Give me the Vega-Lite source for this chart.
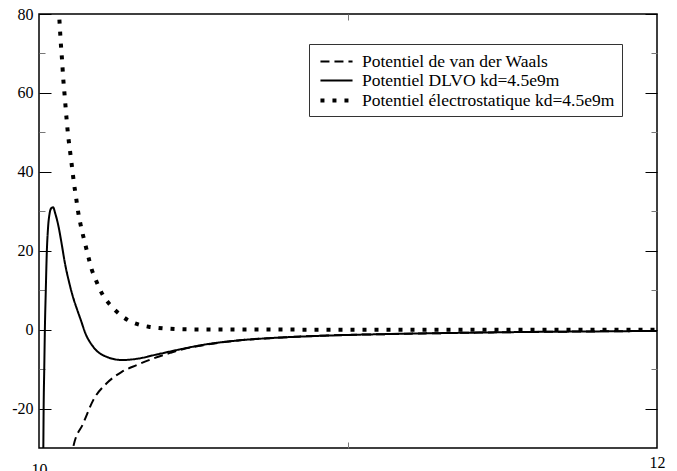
{
  "$schema": "https://vega.github.io/schema/vega-lite/v6.json",
  "width": 618,
  "height": 434,
  "autosize": {"type": "none"},
  "padding": {"left": 39, "top": 14, "right": 20, "bottom": 23},
  "config": {
    "view": {"stroke": "black", "strokeWidth": 1.5},
    "font": "Liberation Serif",
    "axis": {"domain": false, "grid": false, "title": null, "labelFont": "Liberation Serif", "labelFontSize": 16, "labelColor": "black", "tickColor": "black", "tickWidth": 1, "labelFlush": false}
  },
  "datasets": {
    "curves": [
      {"x": 10.045, "y": 112, "s": "Potentiel électrostatique kd=4.5e9m"},
      {"x": 10.055, "y": 95, "s": "Potentiel électrostatique kd=4.5e9m"},
      {"x": 10.065, "y": 80, "s": "Potentiel électrostatique kd=4.5e9m"},
      {"x": 10.068, "y": 75.9, "s": "Potentiel électrostatique kd=4.5e9m"},
      {"x": 10.071, "y": 72.1, "s": "Potentiel électrostatique kd=4.5e9m"},
      {"x": 10.075, "y": 67.9, "s": "Potentiel électrostatique kd=4.5e9m"},
      {"x": 10.078, "y": 64.1, "s": "Potentiel électrostatique kd=4.5e9m"},
      {"x": 10.082, "y": 60.3, "s": "Potentiel électrostatique kd=4.5e9m"},
      {"x": 10.086, "y": 56.5, "s": "Potentiel électrostatique kd=4.5e9m"},
      {"x": 10.090, "y": 52.7, "s": "Potentiel électrostatique kd=4.5e9m"},
      {"x": 10.095, "y": 48.7, "s": "Potentiel électrostatique kd=4.5e9m"},
      {"x": 10.101, "y": 44.9, "s": "Potentiel électrostatique kd=4.5e9m"},
      {"x": 10.107, "y": 41.1, "s": "Potentiel électrostatique kd=4.5e9m"},
      {"x": 10.113, "y": 37.2, "s": "Potentiel électrostatique kd=4.5e9m"},
      {"x": 10.120, "y": 33.5, "s": "Potentiel électrostatique kd=4.5e9m"},
      {"x": 10.127, "y": 29.7, "s": "Potentiel électrostatique kd=4.5e9m"},
      {"x": 10.136, "y": 26.1, "s": "Potentiel électrostatique kd=4.5e9m"},
      {"x": 10.147, "y": 22.5, "s": "Potentiel électrostatique kd=4.5e9m"},
      {"x": 10.158, "y": 19.0, "s": "Potentiel électrostatique kd=4.5e9m"},
      {"x": 10.170, "y": 15.4, "s": "Potentiel électrostatique kd=4.5e9m"},
      {"x": 10.185, "y": 12.4, "s": "Potentiel électrostatique kd=4.5e9m"},
      {"x": 10.205, "y": 9.0, "s": "Potentiel électrostatique kd=4.5e9m"},
      {"x": 10.231, "y": 6.2, "s": "Potentiel électrostatique kd=4.5e9m"},
      {"x": 10.261, "y": 3.9, "s": "Potentiel électrostatique kd=4.5e9m"},
      {"x": 10.290, "y": 2.3, "s": "Potentiel électrostatique kd=4.5e9m"},
      {"x": 10.324, "y": 1.25, "s": "Potentiel électrostatique kd=4.5e9m"},
      {"x": 10.355, "y": 0.74, "s": "Potentiel électrostatique kd=4.5e9m"},
      {"x": 10.386, "y": 0.45, "s": "Potentiel électrostatique kd=4.5e9m"},
      {"x": 10.417, "y": 0.25, "s": "Potentiel électrostatique kd=4.5e9m"},
      {"x": 10.449, "y": 0.12, "s": "Potentiel électrostatique kd=4.5e9m"},
      {"x": 10.5, "y": 0.05, "s": "Potentiel électrostatique kd=4.5e9m"},
      {"x": 10.6, "y": 0.02, "s": "Potentiel électrostatique kd=4.5e9m"},
      {"x": 10.8, "y": 0.005, "s": "Potentiel électrostatique kd=4.5e9m"},
      {"x": 11.0, "y": 0, "s": "Potentiel électrostatique kd=4.5e9m"},
      {"x": 11.5, "y": 0, "s": "Potentiel électrostatique kd=4.5e9m"},
      {"x": 12.0, "y": 0, "s": "Potentiel électrostatique kd=4.5e9m"},
      {"x": 10.012, "y": -40, "s": "Potentiel DLVO kd=4.5e9m"},
      {"x": 10.014, "y": -30, "s": "Potentiel DLVO kd=4.5e9m"},
      {"x": 10.015, "y": -20, "s": "Potentiel DLVO kd=4.5e9m"},
      {"x": 10.017, "y": -10, "s": "Potentiel DLVO kd=4.5e9m"},
      {"x": 10.019, "y": 0, "s": "Potentiel DLVO kd=4.5e9m"},
      {"x": 10.022, "y": 10, "s": "Potentiel DLVO kd=4.5e9m"},
      {"x": 10.025, "y": 19, "s": "Potentiel DLVO kd=4.5e9m"},
      {"x": 10.029, "y": 25.5, "s": "Potentiel DLVO kd=4.5e9m"},
      {"x": 10.034, "y": 29.3, "s": "Potentiel DLVO kd=4.5e9m"},
      {"x": 10.040, "y": 30.8, "s": "Potentiel DLVO kd=4.5e9m"},
      {"x": 10.046, "y": 31, "s": "Potentiel DLVO kd=4.5e9m"},
      {"x": 10.052, "y": 29.6, "s": "Potentiel DLVO kd=4.5e9m"},
      {"x": 10.0625, "y": 26.4, "s": "Potentiel DLVO kd=4.5e9m"},
      {"x": 10.073, "y": 21.9, "s": "Potentiel DLVO kd=4.5e9m"},
      {"x": 10.084, "y": 16.8, "s": "Potentiel DLVO kd=4.5e9m"},
      {"x": 10.100, "y": 11.2, "s": "Potentiel DLVO kd=4.5e9m"},
      {"x": 10.111, "y": 8.0, "s": "Potentiel DLVO kd=4.5e9m"},
      {"x": 10.122, "y": 5.4, "s": "Potentiel DLVO kd=4.5e9m"},
      {"x": 10.135, "y": 2.5, "s": "Potentiel DLVO kd=4.5e9m"},
      {"x": 10.150, "y": -0.9, "s": "Potentiel DLVO kd=4.5e9m"},
      {"x": 10.176, "y": -4.4, "s": "Potentiel DLVO kd=4.5e9m"},
      {"x": 10.219, "y": -6.9, "s": "Potentiel DLVO kd=4.5e9m"},
      {"x": 10.268, "y": -7.7, "s": "Potentiel DLVO kd=4.5e9m"},
      {"x": 10.316, "y": -7.4, "s": "Potentiel DLVO kd=4.5e9m"},
      {"x": 10.381, "y": -6.3, "s": "Potentiel DLVO kd=4.5e9m"},
      {"x": 10.456, "y": -5.0, "s": "Potentiel DLVO kd=4.5e9m"},
      {"x": 10.543, "y": -3.7, "s": "Potentiel DLVO kd=4.5e9m"},
      {"x": 10.650, "y": -2.7, "s": "Potentiel DLVO kd=4.5e9m"},
      {"x": 10.758, "y": -2.1, "s": "Potentiel DLVO kd=4.5e9m"},
      {"x": 10.866, "y": -1.7, "s": "Potentiel DLVO kd=4.5e9m"},
      {"x": 11.0, "y": -1.35, "s": "Potentiel DLVO kd=4.5e9m"},
      {"x": 11.18, "y": -1.05, "s": "Potentiel DLVO kd=4.5e9m"},
      {"x": 11.33, "y": -0.85, "s": "Potentiel DLVO kd=4.5e9m"},
      {"x": 11.55, "y": -0.62, "s": "Potentiel DLVO kd=4.5e9m"},
      {"x": 11.8, "y": -0.45, "s": "Potentiel DLVO kd=4.5e9m"},
      {"x": 12.0, "y": -0.32, "s": "Potentiel DLVO kd=4.5e9m"},
      {"x": 10.105, "y": -33, "s": "Potentiel de van der Waals"},
      {"x": 10.111, "y": -29.7, "s": "Potentiel de van der Waals"},
      {"x": 10.143, "y": -23.8, "s": "Potentiel de van der Waals"},
      {"x": 10.176, "y": -17.8, "s": "Potentiel de van der Waals"},
      {"x": 10.219, "y": -13.6, "s": "Potentiel de van der Waals"},
      {"x": 10.268, "y": -10.7, "s": "Potentiel de van der Waals"},
      {"x": 10.316, "y": -9.0, "s": "Potentiel de van der Waals"},
      {"x": 10.370, "y": -7.3, "s": "Potentiel de van der Waals"},
      {"x": 10.424, "y": -5.9, "s": "Potentiel de van der Waals"},
      {"x": 10.456, "y": -5.15, "s": "Potentiel de van der Waals"},
      {"x": 10.543, "y": -3.8, "s": "Potentiel de van der Waals"},
      {"x": 10.650, "y": -2.7, "s": "Potentiel de van der Waals"},
      {"x": 10.758, "y": -2.1, "s": "Potentiel de van der Waals"},
      {"x": 10.866, "y": -1.7, "s": "Potentiel de van der Waals"},
      {"x": 11.0, "y": -1.35, "s": "Potentiel de van der Waals"},
      {"x": 11.18, "y": -1.05, "s": "Potentiel de van der Waals"},
      {"x": 11.33, "y": -0.85, "s": "Potentiel de van der Waals"},
      {"x": 11.55, "y": -0.62, "s": "Potentiel de van der Waals"},
      {"x": 11.8, "y": -0.45, "s": "Potentiel de van der Waals"},
      {"x": 12.0, "y": -0.32, "s": "Potentiel de van der Waals"}
    ],
    "frame": [
      {"x": 10, "y": -30},
      {"x": 12, "y": 80}
    ]
  },
  "resolve": {"axis": {"x": "independent", "y": "independent"}},
  "layer": [
    {
      "data": {"name": "curves"},
      "mark": {"type": "line", "clip": true, "color": "black", "strokeCap": "butt", "interpolate": "monotone"},
      "encoding": {
        "x": {"field": "x", "type": "quantitative", "scale": {"domain": [10, 12], "nice": false, "zero": false},
              "axis": {"orient": "bottom", "values": [10], "ticks": false, "tickSize": 0, "labelPadding": 13}},
        "y": {"field": "y", "type": "quantitative", "scale": {"domain": [-30, 80], "nice": false, "zero": false},
              "axis": {"orient": "left", "values": [80, 60, 40, 20, 0, -20], "tickSize": -12, "labelPadding": 18, "labelBaseline": "middle", "labelExpr": "'' + datum.value"}},
        "strokeDash": {"field": "s", "type": "nominal",
          "scale": {"domain": ["Potentiel de van der Waals", "Potentiel DLVO kd=4.5e9m", "Potentiel électrostatique kd=4.5e9m"], "range": [[9, 5], [1, 0], [4, 8]]},
          "legend": {"title": null, "orient": "none", "legendX": 270, "legendY": 30, "symbolType": "M-1.75,0H1.75", "symbolSize": 336, "symbolOffset": 9, "symbolStrokeColor": "black", "symbolFillColor": "transparent", "strokeColor": "#333", "padding": 7, "labelOffset": 14, "rowPadding": -1.5, "labelFont": "Liberation Serif", "labelFontSize": 17.5, "labelColor": "black", "labelLimit": 400}},
        "strokeWidth": {"field": "s", "type": "nominal",
          "scale": {"type": "ordinal", "domain": ["Potentiel de van der Waals", "Potentiel DLVO kd=4.5e9m", "Potentiel électrostatique kd=4.5e9m"], "range": [2, 2, 4]},
          "legend": {"title": null, "orient": "none", "legendX": 270, "legendY": 30, "symbolType": "M-1.75,0H1.75", "symbolSize": 336, "symbolOffset": 9, "symbolStrokeColor": "black", "symbolFillColor": "transparent", "strokeColor": "#333", "padding": 7, "labelOffset": 14, "rowPadding": -1.5, "labelFont": "Liberation Serif", "labelFontSize": 17.5, "labelColor": "black", "labelLimit": 400}}
      }
    },
    {
      "data": {"name": "frame"},
      "mark": {"type": "point", "opacity": 0},
      "encoding": {
        "x": {"field": "x", "type": "quantitative", "scale": {"domain": [10, 12], "nice": false, "zero": false},
              "axis": {"orient": "bottom", "values": [12], "ticks": false, "tickSize": 0, "labelPadding": 6}},
        "y": {"field": "y", "type": "quantitative", "scale": {"domain": [-30, 80], "nice": false, "zero": false},
              "axis": {"orient": "left", "values": [70, 50, 30, 10, -10], "tickSize": -6, "labels": false, "tickColor": "#777"}}
      }
    },
    {
      "data": {"name": "frame"},
      "mark": {"type": "point", "opacity": 0},
      "encoding": {
        "x": {"field": "x", "type": "quantitative", "scale": {"domain": [10, 12], "nice": false, "zero": false},
              "axis": {"orient": "bottom", "values": [11], "tickSize": -6, "labels": false, "tickColor": "#777"}},
        "y": {"field": "y", "type": "quantitative", "scale": {"domain": [-30, 80], "nice": false, "zero": false},
              "axis": {"orient": "right", "values": [80, 60, 40, 20, 0, -20], "tickSize": -12, "labels": false}}
      }
    },
    {
      "data": {"name": "frame"},
      "mark": {"type": "point", "opacity": 0},
      "encoding": {
        "x": {"field": "x", "type": "quantitative", "scale": {"domain": [10, 12], "nice": false, "zero": false},
              "axis": {"orient": "top", "values": [11], "tickSize": -6, "labels": false, "tickColor": "#777"}},
        "y": {"field": "y", "type": "quantitative", "scale": {"domain": [-30, 80], "nice": false, "zero": false},
              "axis": {"orient": "right", "values": [70, 50, 30, 10, -10], "tickSize": -6, "labels": false, "tickColor": "#777"}}
      }
    }
  ]
}
